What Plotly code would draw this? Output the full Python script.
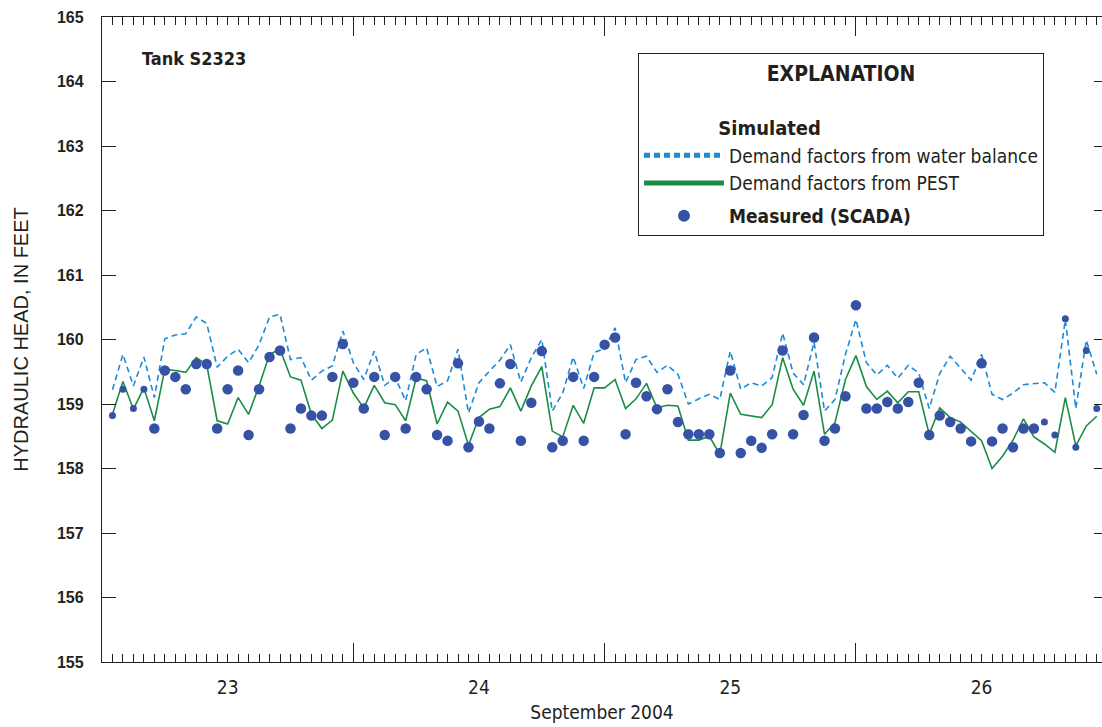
import pandas as pd
import plotly.graph_objects as go

# ---- data (hourly, starting 2004-09-23 01:00) ----
measured = [158.82, 159.23, 158.93, 159.23, 158.62, 159.52, 159.42, 159.23, 159.62, 159.62,
            158.62, 159.23, 159.52, 158.52, 159.23, 159.73, 159.83, 158.62, 158.93, 158.82,
            158.82, 159.42, 159.93, 159.33, 158.93, 159.42, 158.52, 159.42, 158.62, 159.42,
            159.23, 158.52, 158.43, 159.63, 158.33, 158.73, 158.62, 159.32, 159.62, 158.43,
            159.02, 159.82, 158.33, 158.43, 159.42, 158.43, 159.42, 159.92, 160.03, 158.53,
            159.33, 159.12, 158.92, 159.23, 158.72, 158.53, 158.53, 158.53, 158.24, 159.52,
            158.24, 158.43, 158.32, 158.53, 159.83, 158.53, 158.83, 160.03, 158.43, 158.62,
            159.12, 160.53, 158.93, 158.93, 159.03, 158.93, 159.03, 159.33, 158.52, 158.82,
            158.72, 158.62, 158.42, 159.63, 158.42, 158.62, 158.33, 158.62, 158.62, 158.72,
            158.52, 160.32, 158.33, 159.83, 158.93]

water_balance = [159.22, 159.77, 159.28, 159.73, 159.10, 160.01, 160.07, 160.09, 160.35, 160.25,
                 159.57, 159.74, 159.85, 159.64, 159.92, 160.35, 160.39, 159.69, 159.72, 159.37,
                 159.51, 159.59, 160.13, 159.64, 159.38, 159.82, 159.29, 159.41, 159.05, 159.77,
                 159.87, 159.27, 159.36, 159.85, 158.86, 159.33, 159.51, 159.68, 159.92, 159.34,
                 159.72, 160.00, 158.89, 159.17, 159.73, 159.24, 159.80, 159.86, 160.18, 159.33,
                 159.69, 159.74, 159.49, 159.60, 159.46, 159.00, 159.08, 159.15, 159.07, 159.82,
                 159.23, 159.33, 159.28, 159.41, 160.10, 159.48, 159.30, 159.96, 158.89, 159.07,
                 159.77, 160.31, 159.64, 159.45, 159.60, 159.40, 159.60, 159.48, 158.93, 159.47,
                 159.74, 159.56, 159.37, 159.77, 159.15, 159.07, 159.17, 159.30, 159.32, 159.33,
                 159.18, 160.31, 158.93, 159.99, 159.46]

pest = [158.84, 159.35, 158.92, 159.25, 158.74, 159.54, 159.52, 159.49, 159.72, 159.61,
        158.74, 158.69, 159.10, 158.84, 159.28, 159.77, 159.85, 159.42, 159.37, 158.84,
        158.62, 158.75, 159.51, 159.17, 158.94, 159.29, 159.02, 158.99, 158.74, 159.40,
        159.36, 158.69, 159.03, 158.89, 158.36, 158.79, 158.92, 158.96, 159.25, 158.89,
        159.28, 159.58, 158.58, 158.49, 158.98, 158.70, 159.25, 159.25, 159.38, 158.93,
        159.08, 159.32, 158.94, 158.98, 158.97, 158.44, 158.44, 158.50, 158.22, 159.17,
        158.84, 158.81, 158.79, 158.99, 159.72, 159.23, 158.98, 159.51, 158.53, 158.71,
        159.38, 159.75, 159.27, 159.07, 159.20, 159.02, 159.19, 159.19, 158.53, 158.94,
        158.79, 158.72, 158.58, 158.43, 158.00, 158.19, 158.44, 158.77, 158.49, 158.38,
        158.25, 159.10, 158.35, 158.66, 158.81]

day_labels = ["23", "24", "25", "26"]
y_ticks = [155, 156, 157, 158, 159, 160, 161, 162, 163, 164, 165]

start = pd.Timestamp("2004-09-23 00:00")
times = [start + pd.Timedelta(hours=h) for h in range(1, len(measured) + 1)]
midnights = [start + pd.Timedelta(days=d) for d in range(0, 5)]
noons = [start + pd.Timedelta(days=d, hours=12) for d in range(len(day_labels))]
x_range = [start, start + pd.Timedelta(hours=95.5)]

FONT = "Liberation Sans Narrow, Arial Narrow, DejaVu Sans Condensed, sans-serif"
WIDE = "Liberation Sans, Arial, sans-serif"
INK = "#231f20"

n = len(measured)
dot_sizes = [7 if (i < 4 or i >= 89) else 10.5 for i in range(n)]

fig = go.Figure()
fig.add_trace(go.Scatter(
    x=times, y=water_balance, mode="lines", name="Demand factors from water balance",
    line=dict(color="#1b8bd5", width=1.6, dash="6px,4px"),
    legendgroup="sim",
    legendgrouptitle=dict(text="<br>" + "\u00a0" * 13 + "<b>Simulated</b>",
                          font=dict(size=20, family=FONT, color=INK)),
))
fig.add_trace(go.Scatter(
    x=times, y=pest, mode="lines", name="Demand factors from PEST",
    line=dict(color="#1a8c45", width=1.6),
    legendgroup="sim",
))
fig.add_trace(go.Scatter(
    x=times, y=measured, mode="markers", name="<b>Measured (SCADA)</b>",
    xaxis="x2", yaxis="y2",
    marker=dict(color="#3652a6", size=dot_sizes, opacity=1, line=dict(width=0)),
))

fig.update_layout(
    width=1102, height=727,
    margin=dict(l=102, r=0, t=17, b=65),
    paper_bgcolor="white", plot_bgcolor="white",
    font=dict(family=FONT, color=INK, size=17),
    showlegend=True,
    legend=dict(
        x=0.536, y=0.944, xanchor="left", yanchor="top",
        bordercolor=INK, borderwidth=1, bgcolor="white",
        font=dict(size=19, family=FONT, color=INK),
        title=dict(text="<b>EXPLANATION</b>", side="top center",
                   font=dict(size=21, family=FONT, color=INK)),
        itemwidth=80, tracegroupgap=5, traceorder="grouped",
        itemsizing="constant",
    ),
    xaxis=dict(
        type="date", range=x_range, tickvals=midnights, showticklabels=False,
        ticks="inside", ticklen=19, tickwidth=1.2, tickcolor=INK,
        minor=dict(dtick=3600000, tick0="2004-09-23", ticks="inside", ticklen=8, tickwidth=1, tickcolor=INK),
        showline=True, linecolor=INK, linewidth=1.3, mirror="ticks",
        showgrid=False, zeroline=False,
    ),
    xaxis2=dict(
        type="date", range=x_range, overlaying="x", anchor="y2", side="bottom",
        tickvals=noons, ticktext=day_labels, ticks="", showline=False, showgrid=False,
        tickfont=dict(size=19, family=FONT, color=INK), ticklabelstandoff=12,
        title=dict(text="September 2004", font=dict(size=19, family=FONT, color=INK), standoff=8),
    ),
    yaxis=dict(
        range=[155, 165], tickvals=y_ticks, ticks="inside", ticklen=14, tickwidth=1.2, tickcolor=INK,
        showline=True, linecolor=INK, linewidth=1.3, showgrid=False, zeroline=False,
        tickfont=dict(size=16, family=WIDE, color=INK, weight="bold"),
        ticklabelstandoff=14,
        title=dict(text="HYDRAULIC HEAD, IN FEET", font=dict(size=20, family=WIDE, color=INK), standoff=22),
    ),
    yaxis2=dict(
        range=[155, 165], overlaying="y", side="right", anchor="x2",
        tickvals=y_ticks, ticks="inside", ticklen=8, tickwidth=1.2, tickcolor=INK,
        showticklabels=False, showline=False, showgrid=False, zeroline=False,
    ),
    annotations=[dict(
        text="<b>Tank S2323</b>", xref="paper", yref="paper", x=0.038, y=0.936,
        xanchor="left", yanchor="middle", showarrow=False,
        font=dict(size=18, family=FONT, color=INK),
    )],
)

fig.write_html("out.html", config={"displayModeBar": False},
               post_script="document.body.style.margin='0px';")
